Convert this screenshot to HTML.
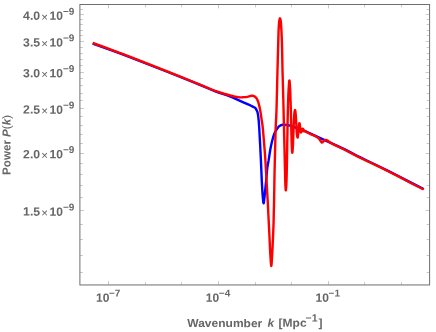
<!DOCTYPE html>
<html><head><meta charset="utf-8"><style>
html,body{margin:0;padding:0;background:#fff;}
body{width:436px;height:332px;overflow:hidden;position:relative;font-family:"Liberation Sans",sans-serif;}
svg text{font-family:"Liberation Sans",sans-serif;}
</style></head><body>
<svg width="436" height="332" viewBox="0 0 436 332" style="position:absolute;left:0;top:0;will-change:transform">
<rect x="0" y="0" width="436" height="332" fill="#fff"/>
<path d="M92.70,43.50 L102.56,47.04 L112.43,50.64 L122.56,54.42 L131.05,57.66 L167.76,72.00 L181.50,77.42 L190.20,80.94 L211.32,89.68 L215.29,91.28 L219.40,92.82 L226.65,95.19 L229.92,96.40 L233.56,97.93 L242.77,102.13 L250.46,105.46 L252.32,106.34 L254.48,107.45 L254.93,107.71 L255.31,108.01 L255.78,108.64 L256.82,110.56 L257.22,111.47 L257.53,112.45 L257.88,114.04 L258.22,116.17 L258.72,120.86 L259.17,127.03 L260.18,145.32 L260.96,161.21 L261.80,181.06 L262.21,188.73 L262.61,194.78 L263.04,199.59 L263.34,202.32 L263.47,203.04 L263.59,203.30 L263.65,203.26 L263.74,203.04 L263.92,202.06 L264.58,196.42 L266.22,179.80 L267.03,170.46 L267.34,167.67 L267.71,165.32 L268.62,160.38 L270.21,149.96 L270.95,146.22 L272.06,141.31 L273.25,136.92 L274.15,134.12 L274.53,133.16 L274.97,132.22 L275.49,131.28 L276.07,130.34 L278.20,127.31 L278.71,126.68 L279.18,126.23 L280.12,125.65 L281.30,125.08 L282.21,124.77 L283.03,124.62 L283.90,124.61 L284.97,124.70 L288.15,125.23 L290.12,125.65 L292.29,126.26 L293.66,126.77 L297.33,128.33 L305.06,131.18 L307.08,132.02 L309.42,133.07 L328.50,141.88 L339.49,146.89 L345.38,149.69 L348.72,151.37 L357.05,155.70 L360.91,157.65 L366.22,160.23 L379.86,166.71 L389.65,171.55 L396.85,175.22 L411.54,182.91 L423.70,189.05" fill="none" stroke="#0000ff" stroke-width="2.4" stroke-linejoin="round" stroke-linecap="butt"/>
<path d="M92.70,43.00 L103.77,46.99 L114.85,51.08 L125.07,54.93 L135.37,58.90 L165.33,70.68 L181.50,77.11 L189.22,80.24 L202.37,85.65 L211.57,89.50 L214.37,90.57 L217.72,91.74 L223.98,93.72 L230.47,95.52 L234.28,96.46 L238.12,97.18 L239.24,97.32 L240.22,97.35 L242.35,97.29 L244.69,97.14 L246.04,96.95 L248.20,96.56 L250.98,95.80 L251.52,95.72 L252.03,95.70 L252.58,95.76 L253.18,95.90 L254.63,96.46 L255.34,96.98 L256.12,97.83 L256.74,98.65 L257.10,99.28 L257.55,100.26 L258.04,101.57 L258.44,102.73 L258.80,103.99 L259.73,107.90 L260.29,110.74 L260.79,113.71 L261.53,119.04 L262.45,124.97 L262.96,129.57 L264.78,151.68 L265.42,160.99 L267.59,198.75 L269.31,233.29 L270.17,251.92 L270.89,263.00 L271.10,265.16 L271.20,265.71 L271.28,265.89 L271.37,265.79 L271.47,265.24 L271.66,263.03 L272.44,249.79 L273.14,234.81 L273.57,223.07 L274.08,201.01 L274.54,172.91 L275.47,134.44 L275.74,126.39 L276.30,115.09 L276.55,108.54 L277.47,71.02 L278.53,31.64 L278.81,26.02 L279.10,22.33 L279.56,19.45 L279.77,18.63 L279.96,18.31 L280.07,18.34 L280.19,18.53 L280.44,19.42 L280.82,21.61 L280.97,23.04 L281.50,31.81 L281.88,41.08 L282.09,48.67 L282.50,70.21 L283.32,99.59 L285.24,181.02 L285.53,187.86 L285.67,189.70 L285.78,190.39 L285.83,190.37 L285.88,190.21 L285.98,189.50 L286.23,186.09 L286.46,181.70 L286.66,175.35 L286.97,161.21 L287.59,122.90 L287.85,110.50 L288.10,101.91 L288.38,94.26 L288.65,88.86 L289.11,82.26 L289.26,80.96 L289.34,80.58 L289.41,80.50 L289.49,80.68 L289.57,81.14 L289.77,83.13 L290.12,88.30 L290.27,91.46 L290.76,107.28 L291.67,143.99 L291.79,146.82 L292.01,150.31 L292.15,152.04 L292.29,152.69 L292.35,152.62 L292.42,152.31 L292.55,151.10 L292.97,144.86 L293.56,128.92 L294.16,115.80 L294.29,114.10 L294.62,111.42 L294.84,110.30 L294.93,110.05 L295.02,110.00 L295.17,110.31 L295.35,111.24 L295.80,115.04 L296.67,130.74 L296.90,134.15 L297.25,136.50 L297.42,137.20 L297.57,137.49 L297.62,137.50 L297.67,137.43 L297.76,137.11 L298.00,135.63 L298.29,133.12 L298.79,127.08 L299.17,123.92 L299.30,123.26 L299.37,123.12 L299.42,123.11 L299.54,123.33 L299.65,123.81 L300.02,126.10 L300.48,130.38 L300.78,131.97 L300.88,132.32 L300.98,132.49 L301.09,132.46 L301.22,132.31 L301.62,131.45 L302.18,129.33 L302.56,128.74 L302.70,128.63 L302.83,128.61 L303.03,128.89 L303.81,130.97 L304.04,131.38 L304.22,131.37 L304.62,131.07 L304.78,131.00 L305.08,131.04 L305.56,131.23 L305.96,131.47 L306.93,132.26 L308.26,133.00 L309.91,133.79 L314.32,135.70 L315.92,136.53 L317.20,137.25 L318.34,138.06 L319.25,138.94 L319.58,139.37 L320.29,140.50 L321.25,141.89 L321.55,142.25 L321.80,142.45 L322.09,142.49 L322.46,142.31 L323.39,141.42 L324.15,140.51 L324.94,140.11 L325.40,140.00 L325.93,140.03 L326.60,140.17 L327.42,140.45 L327.89,140.75 L328.95,141.66 L330.39,142.63 L332.26,143.71 L334.54,144.92 L344.65,149.78 L356.87,156.07 L361.63,158.46 L379.39,166.93 L388.08,171.21 L396.41,175.44 L411.72,183.45 L423.70,189.50" fill="none" stroke="#ff0000" stroke-width="2.4" stroke-linejoin="round" stroke-linecap="butt"/>
<path d="M108.50,284.95 v-3.9 M108.50,4.5 v3.9 M145.50,284.95 v-2.9 M145.50,4.5 v2.9 M181.50,284.95 v-2.9 M181.50,4.5 v2.9 M218.50,284.95 v-3.9 M218.50,4.5 v3.9 M255.50,284.95 v-2.9 M255.50,4.5 v2.9 M291.50,284.95 v-2.9 M291.50,4.5 v2.9 M328.50,284.95 v-3.9 M328.50,4.5 v3.9 M364.50,284.95 v-2.9 M364.50,4.5 v2.9 M401.50,284.95 v-2.9 M401.50,4.5 v2.9 M79.9,272.50 h3.0 M429.6,272.50 h-3.0 M79.9,255.50 h3.0 M429.6,255.50 h-3.0 M79.9,239.50 h3.0 M429.6,239.50 h-3.0 M79.9,224.50 h3.0 M429.6,224.50 h-3.0 M79.9,210.50 h4.0 M429.6,210.50 h-4.0 M79.9,197.50 h3.0 M429.6,197.50 h-3.0 M79.9,185.50 h3.0 M429.6,185.50 h-3.0 M79.9,174.50 h3.0 M429.6,174.50 h-3.0 M79.9,163.50 h3.0 M429.6,163.50 h-3.0 M79.9,153.50 h4.0 M429.6,153.50 h-4.0 M79.9,143.50 h3.0 M429.6,143.50 h-3.0 M79.9,134.50 h3.0 M429.6,134.50 h-3.0 M79.9,125.50 h3.0 M429.6,125.50 h-3.0 M79.9,116.50 h3.0 M429.6,116.50 h-3.0 M79.9,108.50 h4.0 M429.6,108.50 h-4.0 M79.9,100.50 h3.0 M429.6,100.50 h-3.0 M79.9,93.50 h3.0 M429.6,93.50 h-3.0 M79.9,85.50 h3.0 M429.6,85.50 h-3.0 M79.9,78.50 h3.0 M429.6,78.50 h-3.0 M79.9,72.50 h4.0 M429.6,72.50 h-4.0 M79.9,65.50 h3.0 M429.6,65.50 h-3.0 M79.9,59.50 h3.0 M429.6,59.50 h-3.0 M79.9,53.50 h3.0 M429.6,53.50 h-3.0 M79.9,47.50 h3.0 M429.6,47.50 h-3.0 M79.9,41.50 h4.0 M429.6,41.50 h-4.0 M79.9,35.50 h3.0 M429.6,35.50 h-3.0 M79.9,30.50 h3.0 M429.6,30.50 h-3.0 M79.9,24.50 h3.0 M429.6,24.50 h-3.0 M79.9,19.50 h3.0 M429.6,19.50 h-3.0 M79.9,14.50 h4.0 M429.6,14.50 h-4.0 M79.9,9.50 h3.0 M429.6,9.50 h-3.0" fill="none" stroke="#959595" stroke-width="0.5"/>
<rect x="79.9" y="4.5" width="349.70000000000005" height="280.45" fill="none" stroke="#6e6e6e" stroke-width="1"/>
<text transform="translate(40.10,19.78) rotate(0.03) scale(1.02,1)" text-anchor="end" font-size="12" font-weight="bold" fill="#666666" >4.0</text><text transform="translate(44.50,20.88) rotate(0.03) scale(1.0,1)" text-anchor="middle" font-size="11.5" font-weight="bold" fill="#666666" style="font-weight:normal">&#215;</text><text transform="translate(49.60,19.78) rotate(0.03) scale(1.0,1)" text-anchor="start" font-size="12" font-weight="bold" fill="#666666" >10</text><text transform="translate(62.90,14.68) rotate(0.03) scale(1.0,1)" text-anchor="start" font-size="10.0" font-weight="bold" fill="#666666" >&#8722;9</text>
<text transform="translate(40.10,46.44) rotate(0.03) scale(1.02,1)" text-anchor="end" font-size="12" font-weight="bold" fill="#666666" >3.5</text><text transform="translate(44.50,47.54) rotate(0.03) scale(1.0,1)" text-anchor="middle" font-size="11.5" font-weight="bold" fill="#666666" style="font-weight:normal">&#215;</text><text transform="translate(49.60,46.44) rotate(0.03) scale(1.0,1)" text-anchor="start" font-size="12" font-weight="bold" fill="#666666" >10</text><text transform="translate(62.90,41.34) rotate(0.03) scale(1.0,1)" text-anchor="start" font-size="10.0" font-weight="bold" fill="#666666" >&#8722;9</text>
<text transform="translate(40.10,77.22) rotate(0.03) scale(1.02,1)" text-anchor="end" font-size="12" font-weight="bold" fill="#666666" >3.0</text><text transform="translate(44.50,78.32) rotate(0.03) scale(1.0,1)" text-anchor="middle" font-size="11.5" font-weight="bold" fill="#666666" style="font-weight:normal">&#215;</text><text transform="translate(49.60,77.22) rotate(0.03) scale(1.0,1)" text-anchor="start" font-size="12" font-weight="bold" fill="#666666" >10</text><text transform="translate(62.90,72.12) rotate(0.03) scale(1.0,1)" text-anchor="start" font-size="10.0" font-weight="bold" fill="#666666" >&#8722;9</text>
<text transform="translate(40.10,113.63) rotate(0.03) scale(1.02,1)" text-anchor="end" font-size="12" font-weight="bold" fill="#666666" >2.5</text><text transform="translate(44.50,114.73) rotate(0.03) scale(1.0,1)" text-anchor="middle" font-size="11.5" font-weight="bold" fill="#666666" style="font-weight:normal">&#215;</text><text transform="translate(49.60,113.63) rotate(0.03) scale(1.0,1)" text-anchor="start" font-size="12" font-weight="bold" fill="#666666" >10</text><text transform="translate(62.90,108.53) rotate(0.03) scale(1.0,1)" text-anchor="start" font-size="10.0" font-weight="bold" fill="#666666" >&#8722;9</text>
<text transform="translate(40.10,158.19) rotate(0.03) scale(1.02,1)" text-anchor="end" font-size="12" font-weight="bold" fill="#666666" >2.0</text><text transform="translate(44.50,159.29) rotate(0.03) scale(1.0,1)" text-anchor="middle" font-size="11.5" font-weight="bold" fill="#666666" style="font-weight:normal">&#215;</text><text transform="translate(49.60,158.19) rotate(0.03) scale(1.0,1)" text-anchor="start" font-size="12" font-weight="bold" fill="#666666" >10</text><text transform="translate(62.90,153.09) rotate(0.03) scale(1.0,1)" text-anchor="start" font-size="10.0" font-weight="bold" fill="#666666" >&#8722;9</text>
<text transform="translate(40.10,215.63) rotate(0.03) scale(1.02,1)" text-anchor="end" font-size="12" font-weight="bold" fill="#666666" >1.5</text><text transform="translate(44.50,216.73) rotate(0.03) scale(1.0,1)" text-anchor="middle" font-size="11.5" font-weight="bold" fill="#666666" style="font-weight:normal">&#215;</text><text transform="translate(49.60,215.63) rotate(0.03) scale(1.0,1)" text-anchor="start" font-size="12" font-weight="bold" fill="#666666" >10</text><text transform="translate(62.90,210.53) rotate(0.03) scale(1.0,1)" text-anchor="start" font-size="10.0" font-weight="bold" fill="#666666" >&#8722;9</text>
<text transform="translate(96.03,301.70) rotate(0.03) scale(1.0,1)" text-anchor="start" font-size="12" font-weight="bold" fill="#666666" >10</text><text transform="translate(109.03,296.60) rotate(0.03) scale(1.0,1)" text-anchor="start" font-size="10.0" font-weight="bold" fill="#666666" >&#8722;7</text>
<text transform="translate(205.80,301.70) rotate(0.03) scale(1.0,1)" text-anchor="start" font-size="12" font-weight="bold" fill="#666666" >10</text><text transform="translate(218.80,296.60) rotate(0.03) scale(1.0,1)" text-anchor="start" font-size="10.0" font-weight="bold" fill="#666666" >&#8722;4</text>
<text transform="translate(315.57,301.70) rotate(0.03) scale(1.0,1)" text-anchor="start" font-size="12" font-weight="bold" fill="#666666" >10</text><text transform="translate(328.57,296.60) rotate(0.03) scale(1.0,1)" text-anchor="start" font-size="10.0" font-weight="bold" fill="#666666" >&#8722;1</text>
<text transform="translate(187.30,327.10) rotate(0.03) scale(1.045,1)" text-anchor="start" font-size="11.5" font-weight="bold" fill="#666666" >Wavenumber</text>
<text transform="translate(267.60,326.80) rotate(0.03) scale(1.045,1)" text-anchor="start" font-size="11.5" font-weight="bold" fill="#666666" font-style="italic">k</text>
<text transform="translate(278.60,326.80) rotate(0.03) scale(1.045,1)" text-anchor="start" font-size="11.5" font-weight="bold" fill="#666666" >[Mpc</text>
<text transform="translate(305.60,321.40) rotate(0.03) scale(1.0,1)" text-anchor="start" font-size="10.5" font-weight="bold" fill="#666666" >&#8722;1</text>
<text transform="translate(318.40,326.80) rotate(0.03) scale(1.045,1)" text-anchor="start" font-size="11.5" font-weight="bold" fill="#666666" >]</text>
<text transform="translate(10.6,174.9) rotate(-90.03) scale(1.0,1)" font-size="11.6" font-weight="bold" fill="#666666">Power <tspan font-style="italic">P</tspan><tspan font-weight="normal">(</tspan><tspan font-style="italic">k</tspan><tspan font-weight="normal">)</tspan></text>
</svg>
</body></html>
